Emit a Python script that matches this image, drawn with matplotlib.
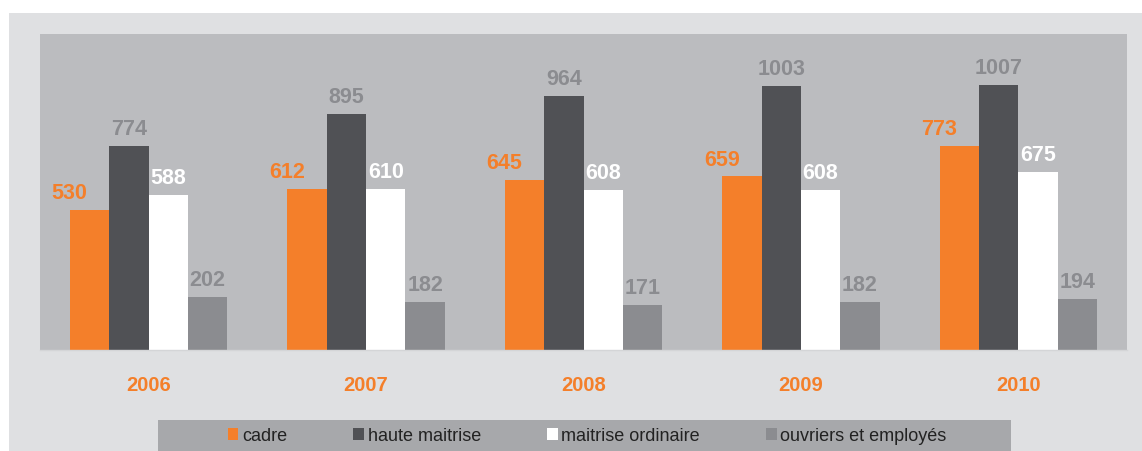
import matplotlib.pyplot as plt
import numpy as np
from matplotlib.patches import Patch, Rectangle

# données
annees = ["2006", "2007", "2008", "2009", "2010"]
categories = ["cadre", "haute maitrise", "maitrise ordinaire", "ouvriers et employés"]
cadre = [530, 612, 645, 659, 773]
haute_maitrise = [774, 895, 964, 1003, 1007]
maitrise_ordinaire = [588, 610, 608, 608, 675]
ouvriers_employes = [202, 182, 171, 182, 194]

series = [cadre, haute_maitrise, maitrise_ordinaire, ouvriers_employes]
couleurs = ["#f47f2a", "#505155", "#ffffff", "#8b8c90"]
couleurs_valeurs = ["#f47f2a", "#8b8c90", "#ffffff", "#8b8c90"]

plt.rcParams["font.family"] = ["Liberation Sans", "DejaVu Sans"]

W, H = 1142, 452
fig = plt.figure(figsize=(W / 100, H / 100), dpi=100)
fig.patch.set_facecolor("white")

# fond gris clair
fig.patches.append(Rectangle((9 / W, 0), 1, (H - 14) / H, transform=fig.transFigure,
                             facecolor="#dfe0e2", edgecolor="none", zorder=-2))
# bandeau de légende
fig.patches.append(Rectangle((158 / W, 0), (1011 - 158) / W, (H - 421) / H,
                             transform=fig.transFigure, facecolor="#a7a8ab",
                             edgecolor="none", zorder=-1))

ax = fig.add_axes([40 / W, 1 - 351 / H, (1127 - 40) / W, (351 - 35) / H])
ax.set_facecolor("#bbbcbf")

x = np.arange(len(annees))
largeur = 0.181
for i, (vals, c, cv) in enumerate(zip(series, couleurs, couleurs_valeurs)):
    pos = x + (i - 1.5) * largeur
    ax.bar(pos, vals, width=largeur, color=c, edgecolor="none", label=categories[i], zorder=2)
    dx = -14.4 if i == 0 else 0
    for xp, v in zip(pos, vals):
        ax.annotate(str(v), (xp, v), xytext=(dx, 8.6), textcoords="offset points",
                    ha="center", va="baseline", fontsize=15.5, fontweight="bold", color=cv)

ax.set_xlim(-0.5, 4.5)
ax.set_ylim(0, 1200)
ax.set_yticks([])
ax.set_xticks(x, annees)
ax.tick_params(axis="x", length=0, pad=18.3, labelsize=14.5, labelcolor="#f47f2a")
for t in ax.get_xticklabels():
    t.set_fontweight("bold")
for s in ["top", "left", "right"]:
    ax.spines[s].set_visible(False)
ax.spines["bottom"].set_color("#d4d5d7")
ax.spines["bottom"].set_linewidth(1)

poignees = [Patch(facecolor=c, edgecolor="none") for c in couleurs]
fig.legend(poignees, categories, loc="center", bbox_to_anchor=(587 / W, 1 - 437 / H),
           ncol=4, frameon=False, fontsize=13, labelcolor="#222222",
           handlelength=0.6, handleheight=0.6, handletextpad=0.2, columnspacing=3.65)

fig.savefig("out.png", dpi=100, facecolor=fig.get_facecolor())
